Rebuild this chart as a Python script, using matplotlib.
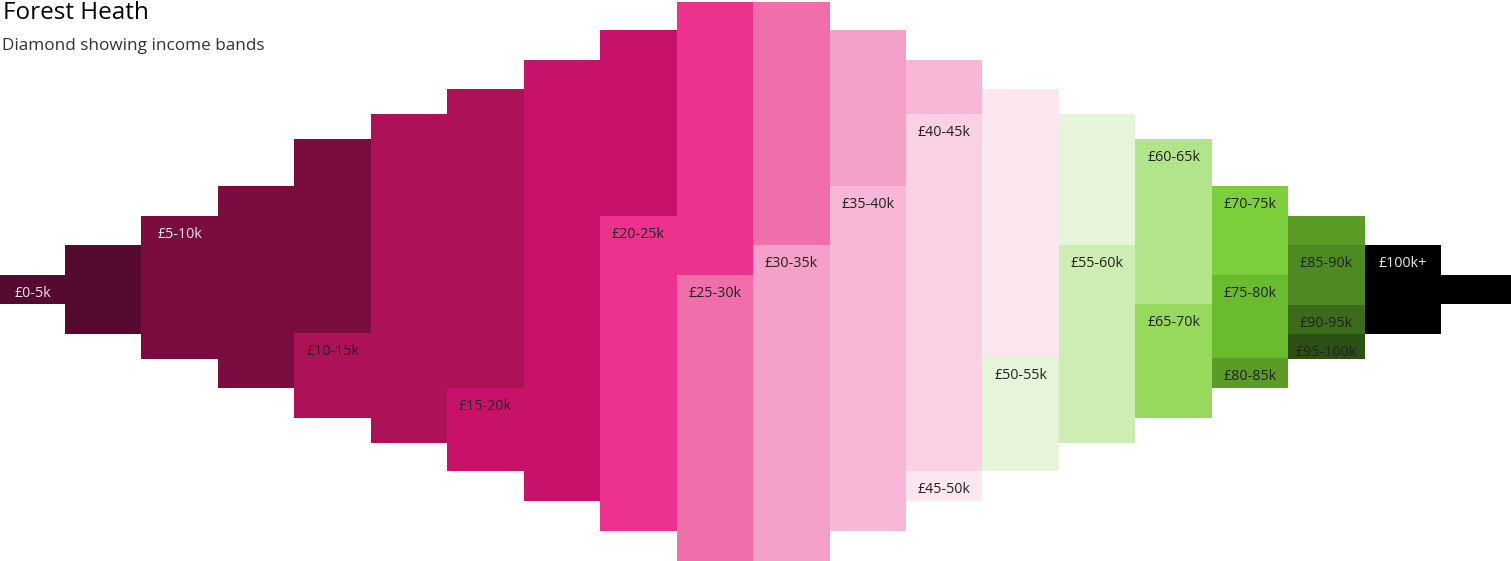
import matplotlib
matplotlib.use("Agg")
import matplotlib.pyplot as plt

# ---- data ----
bands = ["£0-5k", "£5-10k", "£10-15k", "£15-20k", "£20-25k", "£25-30k", "£30-35k",
         "£35-40k", "£40-45k", "£45-50k", "£50-55k", "£55-60k", "£60-65k", "£65-70k",
         "£70-75k", "£75-80k", "£80-85k", "£85-90k", "£90-95k", "£95-100k", "£100k+"]
band_values = [118, 539, 713, 710, 588, 529, 472, 399, 357, 298, 245, 198, 165, 114,
               89, 83, 59, 60, 29, 25, 118]
# diamond outline: top offset and height of each column (same units)
column_top = [275, 245, 216, 186, 139, 114, 89, 60, 30, 2,
              2, 30, 60, 89, 114, 139, 186, 216, 245, 275]
column_height = [29, 89, 143, 202, 279, 329, 382, 441, 501, 559,
                 559, 501, 441, 382, 329, 279, 202, 143, 89, 29]

band_colors = ["#560a2f", "#7a0c3f", "#ad1157", "#c8126a", "#ec328c", "#f06faa",
               "#f5a0c8", "#f8b7d7", "#f9d0e4", "#fce6f0", "#e6f4d9", "#cdedb2",
               "#b2e48a", "#96d95d", "#7ccf3a", "#6bbb2e", "#5b9c26", "#4e8a22",
               "#3d6b1c", "#2c5014", "#000000"]
light_label_bands = ["£0-5k", "£5-10k", "£100k+"]

title = "Forest Heath"
subtitle = "Diamond showing income bands"

# ---- figure ----
fig = plt.figure(figsize=(15.11, 5.61), dpi=100)
ax = fig.add_axes([0, 0, 1, 1])
ax.set_xlim(0.1498, 19.914)
ax.set_ylim(561, 0)
ax.axis("off")

# fill the diamond column by column, top to bottom, band after band
remaining = list(band_values)
b = 0
labelled = set()
for col, (top, height) in enumerate(zip(column_top, column_height)):
    y = top
    left = height
    while left > 1e-9 and b < len(bands):
        seg = min(left, remaining[b])
        ax.bar(col, seg, bottom=y, width=1.0, align="edge",
               color=band_colors[b], linewidth=0)
        if b not in labelled:
            labelled.add(b)
            x_c = col + 0.5
            if col == 0:
                x_c = (ax.get_xlim()[0] + 1) / 2
            tc = "#e8e8e8" if bands[b] in light_label_bands else "#222222"
            ax.text(x_c, y + 18, bands[b], ha="center", va="center",
                    fontsize=10.3, color=tc, family="Open Sans")
        y += seg
        left -= seg
        remaining[b] -= seg
        if remaining[b] <= 1e-9:
            b += 1

fig.text(3 / 1511, 1 - 13 / 561, title, ha="left", va="center",
         fontsize=17.5, color="#000000", family="Open Sans")
fig.text(2 / 1511, 1 - 46 / 561, subtitle, ha="left", va="center",
         fontsize=12.3, color="#333333", family="Open Sans")

fig.savefig("out.png", dpi=100)
